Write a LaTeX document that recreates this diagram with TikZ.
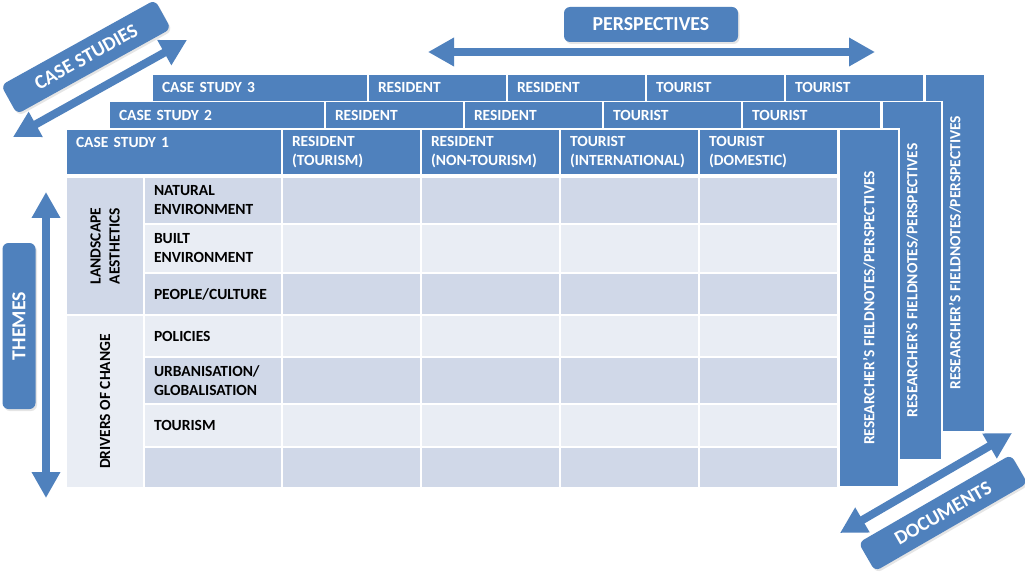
\documentclass[tikz,border=0pt]{standalone}
\usepackage{fontspec}
\setmainfont{Carlito}
\usepackage{tikz}
\usetikzlibrary{positioning}
\usetikzlibrary{arrows.meta}
\usetikzlibrary{shadows}
\tikzset{>=latex}
\definecolor{Hcol}{HTML}{4F81BD}
\definecolor{Dcol}{HTML}{D0D8E8}
\definecolor{Lcol}{HTML}{E9EDF4}
\tikzset{
  tcell/.style={draw=white,line width=1.5pt,anchor=north west,inner xsep=10pt,inner ysep=0pt,outer sep=0pt,align=left,font=\fontsize{15.5}{19}\selectfont\bfseries},
  headcell/.style={tcell,fill=Hcol,text=white},
  bodycell/.style={tcell,text=black},
  labw/.style={minimum width=216pt,text width=196pt},
  persw/.style={minimum width=139pt,text width=119pt},
  themew/.style={minimum width=138pt,text width=118pt},
  rescol/.style={headcell,anchor=center,rotate=90,align=center,minimum width=358pt,minimum height=60pt},
  grpcell/.style={bodycell,anchor=center,rotate=90,align=center,minimum height=78pt},
  tag/.style={fill=Hcol,text=white,rounded corners=6pt,inner sep=0pt,font=\fontsize{19.8}{23}\selectfont\bfseries,
    drop shadow={shadow xshift=1.5pt,shadow yshift=-2pt,opacity=.2}},
  bigarrow/.style={Hcol,line width=8pt,{Triangle[width=27pt,length=26pt]}-{Triangle[width=27pt,length=26pt]}},
}

\begin{document}
\begin{tikzpicture}[x=1pt,y=-1pt]
  \useasboundingbox (0,0) rectangle (1025,572);
  \fill[white] (0,0) rectangle (1025,572);
  % case studies 3 and 2, behind
  \foreach \k in {3,2}{
    \pgfmathsetmacro\dx{43*(\k-1)}
    \pgfmathsetmacro\dy{129-27.6*(\k-1)}
    \node[rescol] (res\k) at ({869+\dx},{\dy+179}) {RESEARCHER’S FIELDNOTES/PERSPECTIVES};
    \node[headcell,labw,minimum height=27.6pt] (cs\k) at ({66+\dx},\dy) {CASE STUDY \k};
    \foreach \lbl [count=\i] in {RESIDENT,RESIDENT,TOURIST,TOURIST}
      \node[headcell,persw,minimum height=27.6pt] (cs\k-\i) at ({143+139*\i+\dx},\dy) {\lbl};
  }
  % case study 1
  \node[rescol] (res1) at (869,308) {RESEARCHER’S FIELDNOTES/PERSPECTIVES};
  \node[headcell,labw,minimum height=46pt] (cs1) at (66,129) {CASE STUDY 1\\\mbox{}};
  \node[headcell,persw,minimum height=46pt,right=0pt of cs1] (cs1-1) {RESIDENT\\(TOURISM)};
  \node[headcell,persw,minimum height=46pt,right=0pt of cs1-1] (cs1-2) {RESIDENT\\(NON-TOURISM)};
  \node[headcell,persw,minimum height=46pt,right=0pt of cs1-2] (cs1-3) {TOURIST\\(INTERNATIONAL)};
  \node[headcell,persw,minimum height=46pt,right=0pt of cs1-3] (cs1-4) {TOURIST\\(DOMESTIC)};
  % themes
  \foreach \y/\h/\txt/\fc [count=\r] in {177/47/{NATURAL\\ENVIRONMENT}/Dcol,
      224/49/{BUILT\\ENVIRONMENT}/Lcol, 273/42/{PEOPLE/CULTURE}/Dcol,
      315/42/POLICIES/Lcol, 357/47/{URBANISATION/\\GLOBALISATION}/Dcol,
      404/43/TOURISM/Lcol, 447/41/{}/Dcol}{
    \node[bodycell,themew,fill=\fc,minimum height=\h] (th\r) at (144,\y) {\txt};
    \foreach \c in {0,...,3}
      \node[bodycell,persw,fill=\fc,minimum height=\h] (d\r-\c) at ({282+139*\c},\y) {};
  }
  \node[grpcell,fill=Dcol,minimum width=138pt] (land) at (105,246) {LANDSCAPE\\AESTHETICS};
  \node[grpcell,fill=Lcol,minimum width=173pt] (drv) at (105,401.5) {DRIVERS OF CHANGE};
  % axis labels
  \node[tag,minimum width=174pt,minimum height=35pt] (persp) at (651,24.5) {PERSPECTIVES};
  \node[tag,rotate=90,minimum width=166pt,minimum height=33pt] (themes) at (19,326) {THEMES};
  \node[tag,rotate=29,minimum width=176pt,minimum height=33pt] (cases) at (86,57) {CASE STUDIES};
  \node[tag,rotate=30,minimum width=176pt,minimum height=33pt] (docs) at (943,513) {DOCUMENTS};
  \coordinate (pl) at (428,52);
  \coordinate (pr) at (875,52);
  \coordinate (tt) at (46,192);
  \coordinate (tb) at (46,498);
  \coordinate (ca) at (13,137);
  \coordinate (cb) at (187,40);
  \coordinate (da) at (840,533);
  \coordinate (db) at (1012,433);
  \draw[bigarrow] (pl) -- (pr);
  \draw[bigarrow] (tt) -- (tb);
  \draw[bigarrow] (ca) -- (cb);
  \draw[bigarrow] (da) -- (db);
\end{tikzpicture}
\end{document}
